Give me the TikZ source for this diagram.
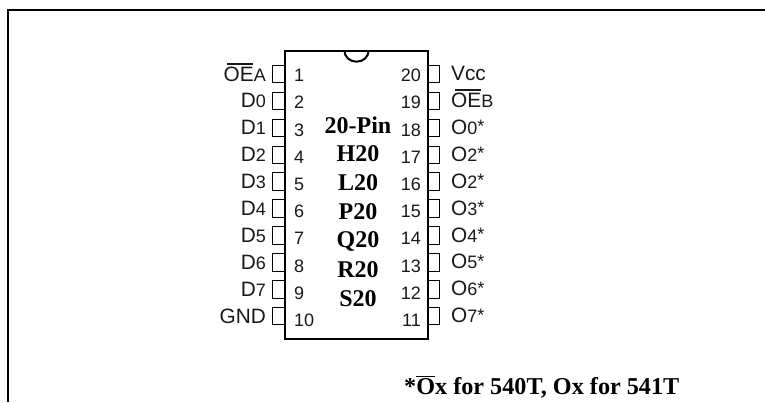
\documentclass[tikz,border=0pt]{standalone}
\usepackage{fontspec}
\setmainfont{Liberation Serif}
\setsansfont{Liberation Sans}
\newcommand{\ovl}[1]{$\overline{\hbox{#1}}$}
\newcommand{\smd}[1]{{\fontsize{18}{18}\selectfont #1}}
\newcommand{\upast}{\raisebox{1.5pt}{\smd{*}}}
\newcommand{\ovbar}{\rlap{\hspace{3.5pt}\rule[16.5pt]{26pt}{2pt}}}
\tikzset{
  x=1pt,y=-1pt,
  frameline/.style={line width=2pt,black},
  chipline/.style={line width=2pt,black},
  pinbox/.style={line width=1pt,black},
  pinlabel/.style={font=\sffamily\fontsize{20.8}{21}\selectfont,inner sep=0pt,text=black!90},
  pinnum/.style={font=\sffamily\fontsize{18}{18}\selectfont,inner sep=0pt,text=black!90},
  parttext/.style={font=\rmfamily\bfseries\fontsize{24}{24}\selectfont,inner sep=0pt,anchor=base},
}
\begin{document}
\begin{tikzpicture}
\useasboundingbox (0,0) rectangle (765,402);
\fill[white] (0,0) rectangle (765,402);
\draw[frameline] (8,402) -- (8,10) -- (765,10);
\draw[chipline] (284.5,51) rectangle (427.5,339);
\draw[chipline] (344.5,51) arc[start angle=180,end angle=360,x radius=12,y radius=-10.7];
\foreach \n/\t [count=\i from 0] in {1/{\ovbar OE\smd{A}},2/D\smd{0},3/D\smd{1},4/D\smd{2},5/D\smd{3},6/D\smd{4},7/D\smd{5},8/D\smd{6},9/D\smd{7},10/GND}{
  \pgfmathsetmacro\yy{65.3+26.9*\i}
  \draw[pinbox] (284,\yy) -- ++(-11.5,0) -- ++(0,17.5) -- ++(11.5,0);
  \node[pinlabel,anchor=base east] (L\n) at (266,\yy+15.7) {\t};
  \node[pinnum,anchor=base west] (N\n) at (294,{81.7+27.2*\i}) {\n};
}
\foreach \n/\t [count=\i from 0] in {20/Vcc,19/{\ovbar OE\smd{B}},18/O\smd{0}\upast,17/O\smd{2}\upast,16/O\smd{2}\upast,15/O\smd{3}\upast,14/O\smd{4}\upast,13/O\smd{5}\upast,12/O\smd{6}\upast,11/O\smd{7}\upast}{
  \pgfmathsetmacro\yy{65.3+26.9*\i}
  \draw[pinbox] (428,\yy) -- ++(11.5,0) -- ++(0,17.5) -- ++(-11.5,0);
  \node[pinlabel,anchor=base west] (L\n) at (451,\yy+15.3) {\t};
  \node[pinnum,anchor=base east] (N\n) at (421,{81.7+27.2*\i}) {\n};
}
\node[parttext] (p0) at (358,133.3) {20-Pin};
\node[parttext] (p1) at (358,161.7) {H20};
\node[parttext] (p2) at (358,190) {L20};
\node[parttext] (p3) at (358,219) {P20};
\node[parttext] (p4) at (358,247.3) {Q20};
\node[parttext] (p5) at (358,277.3) {R20};
\node[parttext] (p6) at (358,306.7) {S20};
\node[parttext,anchor=base west,font=\rmfamily\bfseries\fontsize{24.2}{24}\selectfont] (fn) at (404,394) {*\ovl{O}x for 540T, Ox for 541T};
\end{tikzpicture}
\end{document}
